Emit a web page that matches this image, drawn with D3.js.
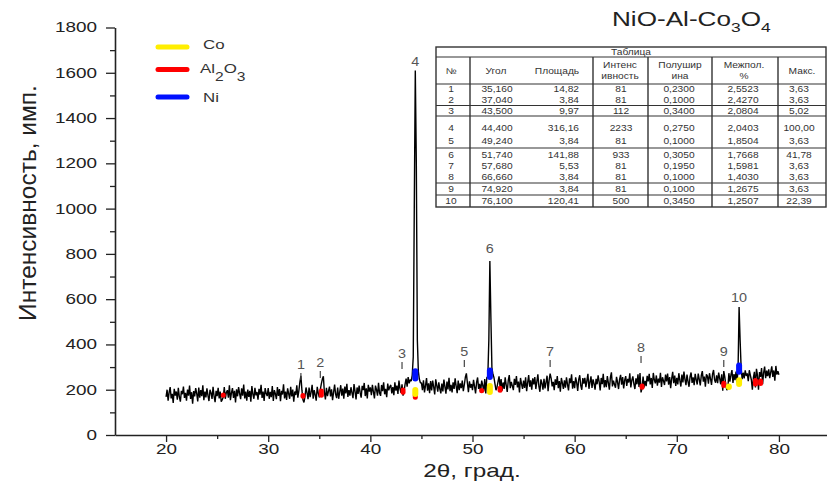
<!DOCTYPE html>
<html>
<head>
<meta charset="utf-8">
<script src="https://cdnjs.cloudflare.com/ajax/libs/d3/7.8.5/d3.min.js"></script>
<style>
body { margin: 0; background: #fff; }
text { font-family: Arial, "Liberation Sans", sans-serif; }
</style>
</head>
<body>
<div id="graph"></div>
<script>
// scan: 2theta from 20 to 80, step 0.1 deg
var scanStart = 20;
var scanStep = 0.1;
var intensity = [
  168,200,152,188,212,162,182,142,204,174, // 20
  192,156,208,168,147,195,180,214,164,186,
  152,201,174,218,159,189,138,194,171,207,
  184,148,210,165,198,172,220,154,192,166,
  206,175,150,200,186,159,213,171,145,195,
  172,208,162,192,147,156,168,212,160,188, // 25
  198,165,219,154,186,207,164,195,144,202,
  171,212,183,158,206,174,223,162,192,152,
  201,168,195,147,216,180,160,208,175,190,
  156,204,178,222,164,192,150,207,183,172,
  207,160,191,167,216,150,198,182,158,212, // 30
  173,203,149,195,179,224,162,192,155,206,
  183,160,213,170,201,147,192,177,219,165,
  195,234,261,198,156,144,171,210,186,158,
  209,167,189,222,160,198,177,152,213,185,
  166,200,226,247,259,188,157,208,172,194, // 35
  214,170,202,154,188,223,180,163,210,160,
  190,220,174,205,160,214,184,226,168,198,
  174,211,186,163,225,193,157,210,182,218,
  187,165,217,198,230,172,206,162,222,192,
  210,176,222,190,162,218,200,174,230,185, // 40
  173,221,194,233,180,204,167,227,197,213,
  221,184,212,176,233,196,218,181,240,205,
  186,224,174,192,225,249,213,256,228,244,
  238,265,345,1000,1610,1200,420,280,246,231,
  230,198,242,188,218,251,196,228,185,238, // 45
  197,240,212,179,246,219,191,233,204,184,
  227,192,245,213,183,236,201,253,194,222,
  188,233,204,250,216,185,240,198,228,207,
  240,194,222,255,272,230,189,237,209,225,
  198,244,215,184,232,254,204,226,190,240, // 50
  220,192,247,184,253,258,420,768,520,298,
  268,254,226,198,211,236,259,212,247,196,
  232,204,255,220,190,241,265,207,235,217,
  198,248,221,260,210,236,188,252,225,204,
  240,208,255,194,231,265,213,241,200,250, // 55
  224,256,203,236,268,215,191,246,228,200,
  248,206,233,262,194,241,271,250,215,235,
  198,246,221,260,207,238,191,252,229,204,
  241,209,255,223,197,250,229,268,205,238,
  207,255,231,195,245,264,218,200,251,227, // 60
  252,211,240,270,204,234,259,208,246,227,
  200,248,224,264,235,197,252,225,270,210,
  242,211,260,230,200,254,277,215,240,223,
  209,257,233,203,246,266,222,256,206,242,
  260,217,248,232,272,210,242,259,226,203, // 65
  250,224,268,212,274,188,207,258,210,239,
  216,261,237,270,223,252,208,274,244,228,
  263,218,249,231,275,212,255,239,221,267,
  237,271,222,256,207,249,279,229,262,217,
  252,223,273,241,214,267,232,280,246,220, // 70
  267,236,213,258,276,230,255,220,270,245,
  223,271,246,219,263,282,236,258,213,268,
  260,227,273,249,221,269,287,243,231,264,
  229,276,250,224,268,196,282,257,220,198,
  208,273,236,265,287,230,269,242,280,233, // 75
  292,565,420,296,247,275,250,286,261,272,
  238,286,264,244,200,253,279,210,292,264,
  200,278,257,296,224,275,302,251,284,260,
  290,251,278,303,257,285,240,305,267,282,
  266                                      // 80
];

// phase markers: [2theta, low, high]
var coMarks = [[44.4,168,212],[51.7,177,230],[75.1,199,228],[76.1,212,255]];
var alMarks = [[25.6,165,188],[33.4,160,185],[35.2,165,205],[43.2,178,210],[44.4,165,178],
               [50.9,186,206],[52.7,187,218],[66.6,200,228],[74.6,208,240],[77.7,214,252],[78.2,216,250]];
var niMarks = [[44.4,236,295],[51.7,243,298],[76.1,266,320]];

// peak numbers on the curve
var peakNo = [1,2,3,4,5,6,7,8,9,10];
var peakAngle = [33.2,35.1,43.1,44.4,49.2,51.7,57.6,66.5,74.6,76.1];
var peakLevel = [292,300,340,1630,349,804,349,367,349,587];
var peakTick = [true,true,true,false,true,false,true,true,true,false];

// table
var tblAngle = [35.160,37.040,43.500,44.400,49.240,51.740,57.680,66.660,74.920,76.100];
var tblArea = [14.82,3.84,9.97,316.16,3.84,141.88,5.53,3.84,3.84,120.41];
var tblInt = [81,81,112,2233,81,933,81,81,81,500];
var tblFwhm = [0.2300,0.1000,0.3400,0.2750,0.1000,0.3050,0.1950,0.1000,0.1000,0.3450];
var tblD = [2.5523,2.4270,2.0804,2.0403,1.8504,1.7668,1.5981,1.4030,1.2675,1.2507];
var tblMax = [3.63,3.63,5.02,100.00,3.63,41.78,3.63,3.63,3.63,22.39];

var yTicks = [0,200,400,600,800,1000,1200,1400,1600,1800];
var yMinor = [100,300,500,700,900,1100,1300,1500,1700];
var xTicks = [20,30,40,50,60,70,80];
var xMinor = [25,35,45,55,65,75,85];

var width = 827, height = 487;
var axisColor = "#222";
var wide = 1.35;   // the picture is stretched sideways

var svg = d3.select('#graph').append('svg')
    .attr('width', width)
    .attr('height', height)
    .style('background', '#fff');

var x = d3.scaleLinear().domain([15, 85]).range([115, 830]);
var y = d3.scaleLinear().domain([0, 1800]).range([435, 27.5]);

function txt(g, str, px, py, size, k, anchor, color) {
    return g.append("text")
        .attr("transform", "translate(" + px + "," + py + ") scale(" + k + ",1)")
        .attr("text-anchor", anchor)
        .style("font-size", size + "px")
        .style("fill", color)
        .text(str);
}

// minor ticks
svg.append("g")
    .attr("transform", "translate(115,0)")
    .call(d3.axisLeft(y).tickValues(yMinor).tickSize(5).tickFormat(""))
    .call(function(g){ g.select(".domain").remove(); })
    .selectAll("line").style("stroke", axisColor).style("stroke-width", 1.3);
svg.append("g")
    .attr("transform", "translate(0,435)")
    .call(d3.axisBottom(x).tickValues(xMinor).tickSize(4).tickFormat(""))
    .call(function(g){ g.select(".domain").remove(); })
    .selectAll("line").style("stroke", axisColor).style("stroke-width", 1.3);

// Y axis
var yAxis = svg.append("g")
    .attr("transform", "translate(115,0)")
    .call(d3.axisLeft(y).tickValues(yTicks).tickFormat(d3.format("d")).tickSize(9).tickSizeOuter(0));
yAxis.select(".domain").style("stroke", axisColor).style("stroke-width", 1.6);
yAxis.selectAll("line").style("stroke", axisColor).style("stroke-width", 1.3);
yAxis.selectAll("text")
    .attr("x", 0)
    .attr("transform", "translate(-18,0) scale(" + wide + ",1)")
    .style("font-size", "14px")
    .style("font-family", "Arial, 'Liberation Sans', sans-serif")
    .style("fill", axisColor);

// X axis
var xAxis = svg.append("g")
    .attr("transform", "translate(0,435)")
    .call(d3.axisBottom(x).tickValues(xTicks).tickSize(7).tickPadding(2).tickSizeOuter(0));
xAxis.select(".domain").style("stroke", axisColor).style("stroke-width", 1.6);
xAxis.selectAll("line").style("stroke", axisColor).style("stroke-width", 1.3);
xAxis.selectAll("text")
    .attr("transform", "scale(" + wide + ",1)")
    .style("font-size", "14px")
    .style("font-family", "Arial, 'Liberation Sans', sans-serif")
    .style("fill", axisColor);

// axis titles
svg.append("text")
    .attr("transform", "translate(36,203) rotate(-90)")
    .attr("text-anchor", "middle")
    .style("font-size", "24.5px")
    .style("fill", axisColor)
    .text("Интенсивность, имп.");
txt(svg, "2θ, град.", 472, 477, 18, wide, "middle", axisColor);

// the curve
var line = d3.line()
    .x(function(d, i){ return x(scanStart + i * scanStep); })
    .y(function(d){ return y(d); });
svg.append("path")
    .datum(intensity)
    .attr("d", line)
    .style("fill", "none")
    .style("stroke", "#000")
    .style("stroke-width", 1.4)
    .style("stroke-linejoin", "bevel");

// phase markers
function marks(arr, color, w) {
    svg.selectAll(null)
        .data(arr)
        .enter()
        .append("line")
          .attr("x1", function(d){ return x(d[0]); })
          .attr("x2", function(d){ return x(d[0]); })
          .attr("y1", function(d){ return y(d[1]) - w / 2; })
          .attr("y2", function(d){ return y(d[2]) + w / 2; })
          .style("stroke", color)
          .style("stroke-width", w)
          .style("stroke-linecap", "round");
}
marks(alMarks, "#ff0000", 5);
marks(coMarks, "#ffee00", 6);
marks(niMarks, "#0010ff", 6);

// peak numbers
peakNo.forEach(function(n, i){
    var px = x(peakAngle[i]), py = y(peakLevel[i]);
    txt(svg, n, px, py, 12, 1.2, "middle", "#555");
    if (peakTick[i]) {
        svg.append("line")
            .attr("x1", px).attr("x2", px)
            .attr("y1", py + 4).attr("y2", py + 11)
            .style("stroke", "#444").style("stroke-width", 1.2);
    }
});

// title
var title = svg.append("text")
    .attr("transform", "translate(612,26) scale(1.34,1)")
    .style("font-size", "19.5px")
    .style("fill", "#222");
title.append("tspan").text("NiO-Al-Co");
title.append("tspan").attr("dy", 6).style("font-size", "13px").text("3");
title.append("tspan").attr("dy", -6).text("O");
title.append("tspan").attr("dy", 6).style("font-size", "13px").text("4");

// legend
var legendColors = ["#ffee00", "#ff0000", "#0010ff"];
var legendY = [47, 69.5, 97];
legendColors.forEach(function(c, i){
    svg.append("line")
        .attr("x1", 158).attr("x2", 187)
        .attr("y1", legendY[i]).attr("y2", legendY[i])
        .style("stroke", c).style("stroke-width", 5).style("stroke-linecap", "round");
});
txt(svg, "Co", 203, 48.5, 13, 1.3, "start", "#333");
var al = txt(svg, "Al", 200, 73, 13, 1.3, "start", "#333");
al.append("tspan").attr("dy", 8).style("font-size", "12px").text("2");
al.append("tspan").attr("dy", -8).text("O");
al.append("tspan").attr("dy", 8).style("font-size", "12px").text("3");
txt(svg, "Ni", 203, 102, 13, 1.3, "start", "#333");

// table
var tLeft = 436, tRight = 826, tTop = 47, tBottom = 207;
var colLines = [470, 593, 648, 712, 778];
var hLines = [57, 84, 105.5, 116, 148, 183, 195];
var rowY = [89, 100, 111, 128, 141, 155, 166, 177, 189, 201];
var tbl = svg.append("g");
tbl.append("rect")
    .attr("x", tLeft).attr("y", tTop)
    .attr("width", tRight - tLeft).attr("height", tBottom - tTop)
    .style("fill", "#fff").style("stroke", "#333").style("stroke-width", 1.4);
hLines.forEach(function(h){
    tbl.append("line").attr("x1", tLeft).attr("x2", tRight).attr("y1", h).attr("y2", h)
        .style("stroke", "#333").style("stroke-width", 1.2);
});
colLines.forEach(function(c){
    tbl.append("line").attr("x1", c).attr("x2", c).attr("y1", 57).attr("y2", tBottom)
        .style("stroke", "#333").style("stroke-width", 1.4);
});
var tc = "#333", ts = 8.5, tk = 1.2;
function cell(str, px, py, anchor) {
    txt(tbl, str, px, py + 3, ts, tk, anchor || "middle", tc);
}
cell("Таблица", 631, 52);
cell("№", 451, 71);
cell("Угол", 496, 71);
cell("Площадь", 557, 71);
cell("Интенс", 620, 65); cell("ивность", 620, 76);
cell("Полушир", 680, 65); cell("ина", 680, 76);
cell("Межпол.", 744, 65); cell("%", 744, 76);
cell("Макс.", 802, 71);

function ru(f) { return function(v){ return d3.format(f)(v).replace(".", ","); }; }
tblAngle.forEach(function(v, i){
    var ry = rowY[i];
    cell(i + 1, 451, ry);
    cell(ru(".3f")(v), 497, ry);
    cell(ru(".2f")(tblArea[i]), 579, ry, "end");
    cell(tblInt[i], 621, ry);
    cell(ru(".4f")(tblFwhm[i]), 679, ry);
    cell(ru(".4f")(tblD[i]), 743, ry);
    cell(ru(".2f")(tblMax[i]), 799, ry);
});
</script>
</body>
</html>
